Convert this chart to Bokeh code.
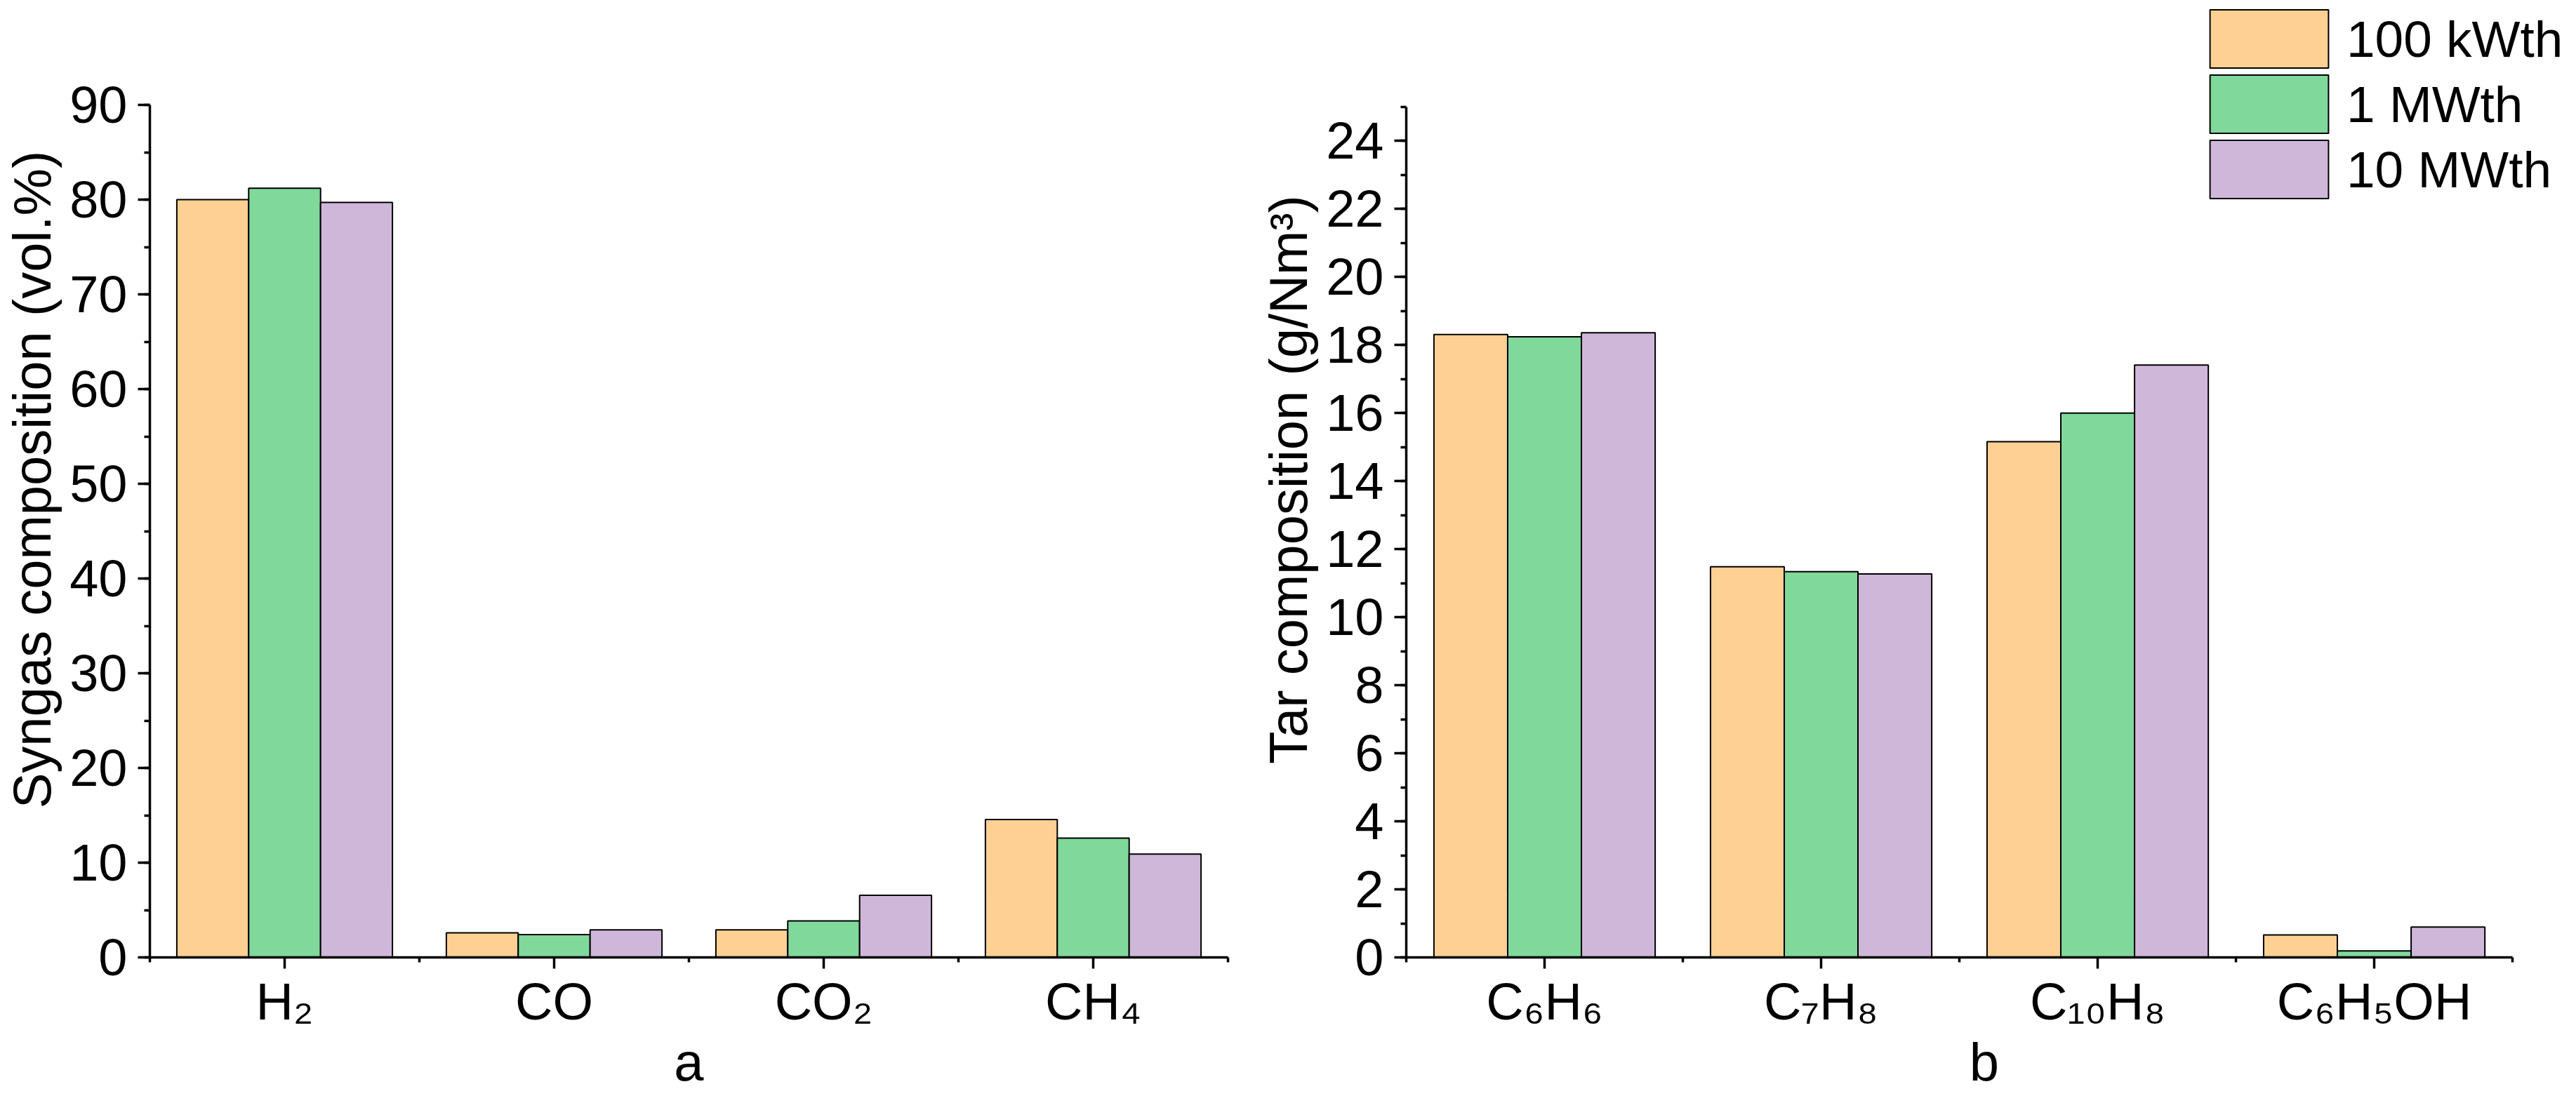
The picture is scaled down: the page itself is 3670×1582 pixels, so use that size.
from bokeh.plotting import figure
from bokeh.models import Range1d, FixedTicker, Legend, LegendItem
from bokeh.layouts import row
from bokeh.embed import file_html
from bokeh.resources import INLINE

# ---- data ----
series = ["100 kWth", "1 MWth", "10 MWth"]
colors = ["#FED093", "#80D89B", "#CFB7DA"]

gas_labels = ["H₂", "CO", "CO₂", "CH₄"]
gas_100kw = [80.0, 2.6, 2.9, 14.55]
gas_1mw = [81.2, 2.4, 3.85, 12.6]
gas_10mw = [79.7, 2.9, 6.55, 10.9]

tar_labels = ["C₆H₆", "C₇H₈", "C₁₀H₈", "C₆H₅OH"]
tar_100kw = [18.31, 11.48, 15.16, 0.66]
tar_1mw = [18.24, 11.34, 16.0, 0.19]
tar_10mw = [18.36, 11.27, 17.41, 0.89]

FONT = "Liberation Sans"


def make_panel(labels, data, ymax, yview, ystep, yminor, xview, ylabel, xlabel,
               width, height, bl, br, bt, bb):
    n = len(labels)
    p = figure(width=width, height=height,
               x_range=Range1d(0, xview), y_range=Range1d(0, yview),
               output_backend="svg", toolbar_location=None,
               min_border_left=bl, min_border_right=br,
               min_border_top=bt, min_border_bottom=bb)
    p.xgrid.visible = False
    p.ygrid.visible = False
    p.outline_line_color = None
    p.background_fill_color = "white"
    p.border_fill_color = "white"

    bw = 0.8 / len(data)
    renderers = []
    for k, vals in enumerate(data):
        xs = [i + 0.5 + (k - (len(data) - 1) / 2) * bw for i in range(n)]
        r = p.vbar(x=xs, top=vals, bottom=0, width=bw,
                   fill_color=colors[k], line_color="black", line_width=2)
        renderers.append(r)

    centers = [i + 0.5 for i in range(n)]
    p.xaxis.ticker = FixedTicker(ticks=centers, minor_ticks=list(range(n + 1)))
    p.xaxis.major_label_overrides = {c: lab for c, lab in zip(centers, labels)}
    p.xaxis.bounds = (0, n)
    p.xaxis.major_tick_out = 16
    p.xaxis.major_tick_in = 0
    p.xaxis.minor_tick_out = 7
    p.xaxis.minor_tick_in = 0
    p.xaxis.major_label_standoff = 5
    p.xaxis.major_label_text_line_height = 1.0
    p.xaxis.axis_label = xlabel
    p.xaxis.axis_label_standoff = -1
    p.xaxis.axis_label_text_line_height = 1.0

    yt = list(range(0, ymax + 1, ystep))
    ym = [v * yminor for v in range(0, int(ymax / yminor) + 1)]
    p.yaxis.ticker = FixedTicker(ticks=yt, minor_ticks=ym)
    p.yaxis.bounds = (0, ymax)
    p.yaxis.major_tick_out = 17
    p.yaxis.major_tick_in = 0
    p.yaxis.minor_tick_out = 8
    p.yaxis.minor_tick_in = 0
    p.yaxis.major_label_standoff = 15
    p.yaxis.axis_label = ylabel
    p.yaxis.axis_label_standoff = 8

    for ax in (p.xaxis[0], p.yaxis[0]):
        ax.axis_line_width = 3.5
        ax.axis_line_color = "black"
        ax.major_tick_line_width = 3.5
        ax.minor_tick_line_width = 3.5
        ax.major_tick_line_color = "black"
        ax.minor_tick_line_color = "black"
        ax.major_label_text_font = FONT
        ax.major_label_text_font_size = "74px"
        ax.major_label_text_color = "black"
        ax.axis_label_text_font = FONT
        ax.axis_label_text_font_size = "76px"
        ax.axis_label_text_font_style = "normal"
        ax.axis_label_text_color = "black"
    return p, renderers


H = 1566
# frames extended upward (and right for panel b) so the legend fits inside;
# the axes themselves are bounded to the data ranges
p1, _ = make_panel(gas_labels, [gas_100kw, gas_1mw, gas_10mw], 90, 100.89, 10, 5, 4,
                   "Syngas composition (vol.%)", "a",
                   1790, H, 208, 41, 2, 202)
p2, rs = make_panel(tar_labels, [tar_100kw, tar_1mw, tar_10mw], 25, 28.09, 2, 1, 4.18,
                    "Tar composition (g/Nm³)", "b",
                    1862, H, 209, 2, 2, 202)

# one legend per entry so each box sits exactly where it should
legend_y = [1257, 1164, 1071]
for s, r, ly in zip(series, rs, legend_y):
    lg = Legend(items=[LegendItem(label=s, renderers=[r])],
                location=(1124, ly), orientation="vertical",
                glyph_width=211, glyph_height=104, label_standoff=5,
                spacing=0, padding=0, margin=0,
                border_line_color=None, background_fill_alpha=0,
                label_text_font=FONT, label_text_font_size="73px",
                label_text_color="black")
    p2.add_layout(lg)

layout = row(p1, p2)
open("out.html", "w").write(file_html(layout, INLINE))
